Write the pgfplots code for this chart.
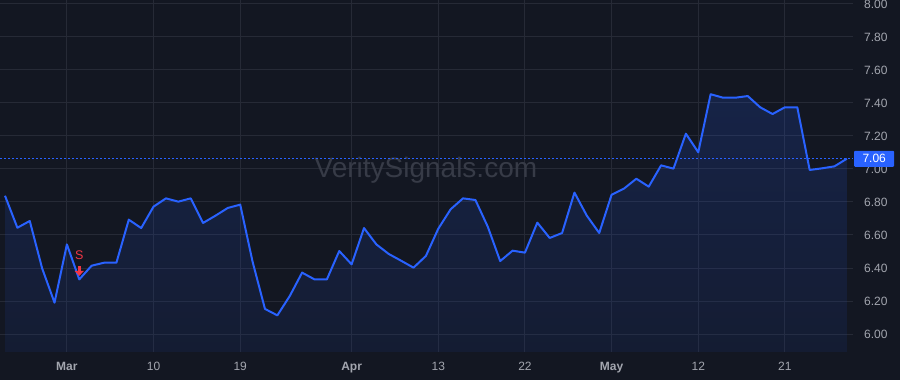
\documentclass[border=0pt]{standalone}
\usepackage{fontspec}
\setmainfont{Liberation Sans}
\usepackage{pgfplots}
\usepackage{pgfplotstable}
\pgfplotsset{compat=1.18}
\usetikzlibrary{arrows.meta}
\definecolor{bg}{HTML}{131722}
\definecolor{gridc}{HTML}{262A36}
\definecolor{lbl}{HTML}{A3A6AF}
\definecolor{linec}{HTML}{2962FF}
\definecolor{wm}{HTML}{373B47}
\definecolor{sigred}{HTML}{F23645}
\pgfplotstableread{
i v
0 6.838
1 6.644
2 6.685
3 6.398
4 6.190
5 6.543
6 6.331
7 6.414
8 6.432
9 6.432
10 6.693
11 6.642
12 6.772
13 6.822
14 6.802
15 6.822
16 6.673
17 6.717
18 6.764
19 6.784
20 6.438
21 6.152
22 6.113
23 6.230
24 6.372
25 6.331
26 6.331
27 6.503
28 6.422
29 6.642
30 6.543
31 6.485
32 6.444
33 6.402
34 6.473
35 6.638
36 6.756
37 6.822
38 6.812
39 6.650
40 6.442
41 6.505
42 6.493
43 6.675
44 6.582
45 6.612
46 6.857
47 6.717
48 6.612
49 6.844
50 6.881
51 6.941
52 6.893
53 7.022
54 7.002
55 7.214
56 7.101
57 7.453
58 7.432
59 7.432
60 7.442
61 7.374
62 7.333
63 7.374
64 7.374
65 6.994
66 7.004
67 7.016
68 7.062
}\pricedata
\begin{document}
\begin{tikzpicture}
\fill[bg, use as bounding box] (0pt,0pt) rectangle (900pt,380pt);
\begin{axis}[
  at={(0pt,28pt)}, anchor=south west,
  width=853pt, height=352pt, scale only axis,
  xmin=-0.404, xmax=68.5, ymin=5.891, ymax=8.024,
  axis line style={draw=none},
  major tick length=0pt,
  grid=major,
  major grid style={color=gridc, line width=1pt},
  xtick={5,12,19,28,35,42,49,56,63},
  xticklabels={\textbf{Mar},10,19,\textbf{Apr},13,22,\textbf{May},12,21},
  ytick={6,6.2,6.4,6.6,6.8,7,7.2,7.4,7.6,7.8,8},
  yticklabel pos=right,
  yticklabel style={anchor=west, inner sep=0pt, xshift=11pt, color=lbl,
    font=\fontsize{12}{14}\selectfont,
    /pgf/number format/.cd, fixed, fixed zerofill, precision=2, assume math mode=true},
  xticklabel style={anchor=north, inner sep=0pt, yshift=-10pt, color=lbl,
    font=\fontsize{12}{14}\selectfont},
  clip=false,
]
\addplot[draw=none, top color=linec, bottom color=linec!45!bg, fill opacity=0.17] table[x=i,y=v] {\pricedata} \closedcycle;
\node[color=wm, font=\fontsize{28}{32}\selectfont] at (axis cs:34,6.99) {VeritySignals.com};
\addplot[linec, line width=0.9pt, dash pattern=on 2pt off 2pt] coordinates {(-0.404,7.062) (68.5,7.062)};
\addplot[linec, line width=2pt, line join=round] table[x=i,y=v] {\pricedata};
\node[color=sigred, font=\fontsize{12.5}{14}\selectfont] at ([yshift=24pt]axis cs:6,6.331) {S};
\draw[sigred, line width=3pt, -{Triangle[width=9pt,length=5pt]}] ([yshift=13pt]axis cs:6,6.331) -- ([yshift=3.5pt]axis cs:6,6.331);
\node[fill=linec, text=white, anchor=west, inner sep=0pt, minimum height=16pt, minimum width=40pt, rounded corners=1pt, font=\fontsize{12}{14}\selectfont] at (axis cs:68.5,7.062) [xshift=1pt] {7.06};
\end{axis}
\end{tikzpicture}
\end{document}
